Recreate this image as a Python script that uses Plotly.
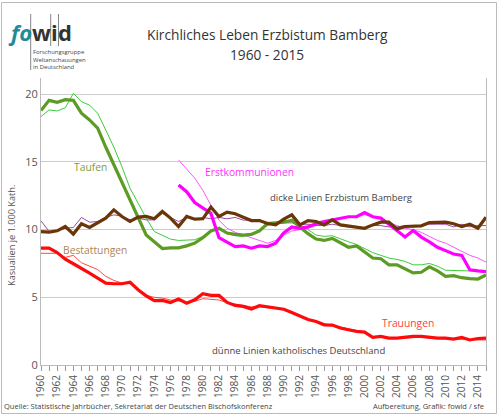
import plotly.graph_objects as go

years = list(range(1960, 2016))

# Taufen (baptisms) per 1000 Catholics
taufen_bamberg = [18.8, 19.55, 19.4, 19.6, 19.55, 18.6, 18.1, 17.5, 16.1, 14.8,
                  13.5, 12.3, 11.0, 9.6, 9.1, 8.6, 8.65, 8.65, 8.8, 9.0,
                  9.4, 9.9, 10.1, 9.75, 9.65, 9.6, 9.65, 9.9, 10.45, 10.5,
                  10.55, 10.7, 10.2, 9.7, 9.3, 9.2, 9.35, 9.0, 8.7, 8.8,
                  8.35, 7.9, 7.85, 7.4, 7.4, 7.1, 6.8, 6.85, 7.25, 6.95,
                  6.55, 6.6, 6.45, 6.38, 6.35, 6.65]
taufen_de = [18.35, 18.84, 18.77, 19.0, 20.07, 19.45, 19.2, 18.6, 17.36, 16.1,
             14.65, 13.06, 11.96, 10.85, 9.86, 9.6, 9.3, 9.2, 9.2, 9.25,
             9.5, 9.9, 10.1, 9.7, 9.55, 9.5, 9.7, 10.0, 10.3, 10.5,
             10.7, 10.6, 10.3, 10.0, 9.6, 9.5, 9.55, 9.3, 9.1, 8.9,
             8.6, 8.3, 8.1, 7.9, 7.8, 7.65, 7.4, 7.4, 7.5, 7.3,
             7.0, 7.0, 7.0, 6.95, 6.9, 6.9]

# Erstkommunionen (from 1977)
ek_years = list(range(1977, 2016))
ek_bamberg = [13.3, 12.8, 12.0, 11.6, 11.2, 9.4, 9.1, 8.75, 8.8, 8.63,
              8.8, 8.75, 9.0, 9.75, 10.2, 10.1, 10.2, 10.45, 10.6, 10.7,
              10.85, 10.95, 10.95, 11.26, 10.95, 10.85, 10.4, 9.9, 9.45, 9.93,
              9.45, 9.1, 8.7, 8.45, 8.2, 8.1, 7.03, 6.95, 6.9]
ek_de = [15.15, 14.5, 13.8, 12.9, 11.8, 10.7, 10.1, 9.8, 9.6, 9.4,
         9.2, 9.0, 9.2, 9.6, 9.9, 10.0, 10.1, 10.3, 10.5, 10.6,
         10.8, 10.9, 11.0, 11.1, 11.0, 10.8, 10.5, 10.3, 10.1, 10.0,
         9.8, 9.5, 9.2, 9.0, 8.7, 8.4, 8.1, 7.9, 7.6]

# Bestattungen (funerals)
best_bamberg = [9.86, 9.81, 9.91, 10.23, 9.67, 10.43, 10.16, 10.53, 10.85, 11.46,
                10.97, 10.6, 10.92, 10.97, 10.8, 11.34, 10.85, 10.23, 10.97, 10.77,
                10.8, 11.66, 10.97, 11.29, 11.17, 10.92, 10.67, 10.67, 10.45, 10.35,
                10.77, 11.09, 10.35, 10.67, 10.6, 10.35, 10.72, 10.35, 10.28, 10.18,
                10.1, 10.35, 10.55, 10.55, 10.04, 10.23, 10.28, 10.28, 10.52, 10.55,
                10.55, 10.43, 10.23, 10.4, 10.1, 10.92]
best_de = [10.65, 9.86, 9.9, 10.1, 10.16, 10.9, 10.55, 10.6, 10.9, 11.09,
           11.0, 10.72, 10.85, 10.72, 10.72, 11.2, 10.9, 10.6, 10.9, 10.8,
           10.9, 10.8, 10.9, 10.8, 10.9, 10.7, 10.7, 10.6, 10.5, 10.4,
           10.5, 10.5, 10.4, 10.4, 10.3, 10.3, 10.4, 10.3, 10.2, 10.2,
           10.1, 10.3, 10.3, 10.2, 10.2, 10.3, 10.2, 10.3, 10.4, 10.4,
           10.4, 10.2, 10.4, 10.2, 10.3, 10.3]

# Trauungen (weddings)
trau_bamberg = [8.63, 8.63, 8.31, 7.82, 7.48, 7.16, 6.79, 6.42, 6.05, 6.0,
                6.0, 6.12, 5.56, 5.11, 4.75, 4.77, 4.62, 4.87, 4.57, 4.82,
                5.26, 5.14, 5.14, 4.62, 4.4, 4.33, 4.13, 4.38, 4.28, 4.2,
                4.12, 3.88, 3.6, 3.36, 3.22, 2.97, 2.95, 2.73, 2.6, 2.48,
                2.43, 2.04, 2.11, 1.99, 1.99, 2.07, 2.11, 2.11, 2.04, 1.99,
                1.99, 1.92, 2.04, 1.85, 1.96, 1.99]
trau_de = [8.25, 8.25, 8.25, 7.95, 8.1, 7.55, 7.3, 7.05, 6.55, 6.25,
           6.05, 6.0, 5.55, 5.15, 5.0, 4.95, 4.8, 4.75, 4.65, 4.7,
           4.9, 4.85, 4.8, 4.6, 4.5, 4.4, 4.3, 4.3, 4.25, 4.2,
           4.1, 3.85, 3.6, 3.4, 3.25, 3.05, 2.95, 2.8, 2.65, 2.5,
           2.4, 2.1, 2.1, 2.0, 1.95, 2.0, 2.05, 2.05, 2.0, 1.95,
           1.95, 1.9, 1.9, 1.85, 1.85, 1.85]

tick_years = list(range(1960, 2015, 2))
y_ticks = [0, 5, 10, 15, 20]

FONT = "Open Sans"
L, R, T, B = 41, 486, 78, 365
W, H = R - L, B - T

fig = go.Figure()

def add(x, y, color, width):
    fig.add_trace(go.Scatter(x=x, y=y, mode="lines",
                             line=dict(color=color, width=width),
                             showlegend=False, hoverinfo="skip"))

# thin lines (Deutschland)
add(years, taufen_de, "#3ccc3c", 1)
add(ek_years, ek_de, "#ff55ff", 1)
add(years, best_de, "#9a4aa6", 1)
add(years, trau_de, "#ff4a4a", 1)
# thick lines (Bamberg)
add(years, taufen_bamberg, "#5c9c24", 3.2)
add(ek_years, ek_bamberg, "#ff00ff", 3.2)
add(years, best_bamberg, "#6a3608", 3.2)
add(years, trau_bamberg, "#ff0a0a", 3.2)

fig.update_layout(
    width=500, height=417,
    margin=dict(l=L, r=500 - R, t=T, b=417 - B),
    paper_bgcolor="white", plot_bgcolor="white",
    font=dict(family=FONT, color="#555555"),
    xaxis=dict(range=[1960, 2015], tickvals=tick_years,
               ticktext=[str(t) for t in tick_years],
               tickangle=-90, tickfont=dict(size=10, color="#555555"),
               showgrid=False, showline=True, linecolor="#bbbbbb", linewidth=1,
               mirror=False, ticks="outside", ticklen=5, tickcolor="#999999",
               minor=dict(dtick=1, ticks="outside", ticklen=5, tickcolor="#999999"),
               zeroline=False, fixedrange=True),
    yaxis=dict(range=[0, 21.2], tickvals=y_ticks,
               tickfont=dict(size=11, color="#555555"),
               showgrid=True, gridcolor="#cccccc", gridwidth=1,
               showline=True, linecolor="#bbbbbb", mirror=True,
               zeroline=False, ticks="", fixedrange=True),
)

def px(xp):
    return (xp - L) / W
def py(yp):
    return (B - yp) / H

ann = []
def text(x, y, s, size, color, xanchor="center", xref="paper", yref="paper",
         yanchor="middle", angle=0, align="center"):
    ann.append(dict(x=x, y=y, xref=xref, yref=yref, text=s, showarrow=False,
                    font=dict(size=size, color=color, family=FONT),
                    xanchor=xanchor, yanchor=yanchor, textangle=angle,
                    align=align, borderpad=0))

# title
text(px(267), py(35), "Kirchliches Leben Erzbistum Bamberg", 13.7, "#333333")
text(px(267), py(54), "1960 - 2015", 13.7, "#333333")

# y axis title
text(px(12), py(236), "Kasualien je 1.000 Kath.", 9.2, "#555555", angle=-90)

# series labels (data coords)
text(1966.1, 14.6, "Taufen", 10.3, "#7a9e3a", xref="x", yref="y")
text(1985.8, 14.25, "Erstkommunionen", 10.3, "#ff33ff", xref="x", yref="y")
text(1997.1, 12.35, "dicke Linien Erzbistum Bamberg", 9.5, "#444444", xref="x", yref="y")
text(1966.7, 8.5, "Bestattungen", 10.3, "#b08454", xref="x", yref="y")
text(2005.4, 3.12, "Trauungen", 10.3, "#ff4040", xref="x", yref="y")
text(1991.8, 1.06, "dünne Linien katholisches Deutschland", 9.5, "#444444", xref="x", yref="y")

# footer
text(px(3), py(406), "Quelle: Statistische Jahrbücher, Sekretariat der Deutschen Bischofskonferenz",
     7.5, "#444444", xanchor="left")
text(px(485), py(406), "Aufbereitung, Grafik: fowid / sfe", 7.5, "#444444", xanchor="right")

# logo
text(px(20), py(32), "<b><i>fo</i></b>", 22, "#1f8a99")
text(px(41.5), py(32), "<b>w</b>", 22, "#333333")
text(px(54.5), py(32), "<b>i</b>", 22, "#333333")
text(px(64.5), py(32), "<b>d</b>", 22, "#333333")
text(px(32), py(59.5), "Forschungsgruppe<br>Weltanschauungen<br>in Deutschland",
     5.9, "#444444", xanchor="left", align="left")

fig.update_layout(annotations=ann)

shapes = []
for xb, yb in [(30.7, 70), (50.7, 46), (58.5, 46)]:
    shapes.append(dict(type="line", xref="paper", yref="paper", x0=px(xb), x1=px(xb),
                       y0=py(yb), y1=py(14), line=dict(color="#666666", width=0.8)))
# outer frame
shapes.append(dict(type="rect", xref="paper", yref="paper",
                   x0=px(1.5), x1=px(496.5), y0=py(413.5), y1=py(2.5),
                   line=dict(color="#bbbbbb", width=1)))
fig.update_layout(shapes=shapes)

fig.write_html("out.html", config={"displayModeBar": False},
               post_script="document.body.style.margin='0';")
